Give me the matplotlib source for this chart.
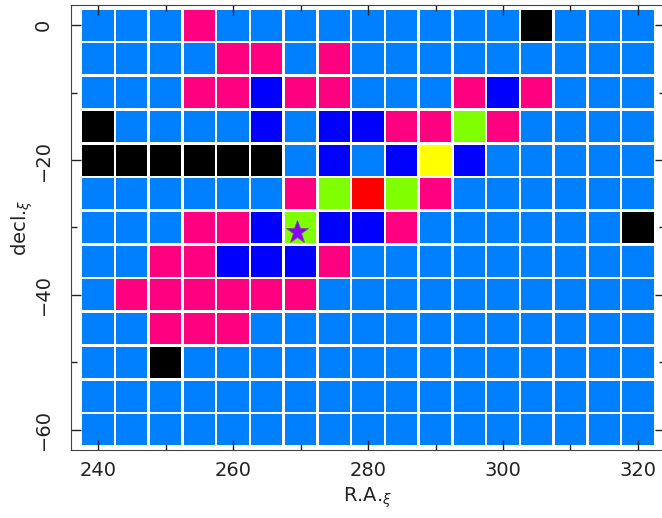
import matplotlib
matplotlib.use('Agg')
import matplotlib.pyplot as plt
from matplotlib.patches import Rectangle
from matplotlib.ticker import MultipleLocator

# grid of cells, R.A. / decl. centres
ra = [240, 245, 250, 255, 260, 265, 270, 275, 280, 285, 290, 295, 300, 305, 310, 315, 320]
dec = [0, -5, -10, -15, -20, -25, -30, -35, -40, -45, -50, -55, -60]

# one string per row (top to bottom), one letter per column
cells = [
    "BBBPBBBBBBBBBKBBB",
    "BBBBPPBPBBBBBBBBB",
    "BBBPPDPPBBBPDPBBB",
    "KBBBBDBDDPPGPBBBB",
    "KKKKKKBDBDYDBBBBB",
    "BBBBBBPGRGPBBBBBB",
    "BBBPPDGDDPBBBBBBK",
    "BBPPDDDPBBBBBBBBB",
    "BPPPPPPBBBBBBBBBB",
    "BBPPPBBBBBBBBBBBB",
    "BBKBBBBBBBBBBBBBB",
    "BBBBBBBBBBBBBBBBB",
    "BBBBBBBBBBBBBBBBB",
]

colours = {
    'B': '#0080FF',
    'P': '#FF0080',
    'D': '#0000FF',
    'K': '#000000',
    'G': '#80FF00',
    'R': '#FF0000',
    'Y': '#FFFF00',
}

star_ra = 269.5
star_dec = -30.6

fig = plt.figure(figsize=(6.62, 5.18), dpi=100)
ax = fig.add_axes([71 / 662, 68 / 518, 594 / 662, 445 / 518])

w = 4.6
for j, d in enumerate(dec):
    for i, r in enumerate(ra):
        ax.add_patch(Rectangle((r - w / 2, d - w / 2), w, w,
                               facecolor=colours[cells[j][i]], edgecolor='none'))

ax.plot(star_ra, star_dec, marker='*', markersize=17, color='#8A00FF',
        markeredgecolor='#7a4fa0', markeredgewidth=0.6, linestyle='none')

ax.set_xlim(236, 324)
ax.set_ylim(-63, 3)

ax.xaxis.set_major_locator(MultipleLocator(20))
ax.xaxis.set_minor_locator(MultipleLocator(10))
ax.yaxis.set_major_locator(MultipleLocator(20))
ax.yaxis.set_minor_locator(MultipleLocator(10))
ax.tick_params(which='both', direction='in', top=True, right=True,
               labelsize=14, colors='#222222', width=1)
ax.tick_params(which='major', length=7)
ax.tick_params(which='minor', length=4)
ax.tick_params(axis='x', pad=8)
ax.tick_params(axis='y', pad=13)
for lab in ax.get_yticklabels():
    lab.set_rotation(90)
    lab.set_verticalalignment('center')
for sp in ax.spines.values():
    sp.set_color('#444444')

ax.set_xlabel(r'R.A.$_\xi$', fontsize=14, color='#222222', labelpad=4)
ax.set_ylabel(r'decl.$_\xi$', fontsize=14, color='#222222', va='center')
ax.yaxis.set_label_coords(-0.082, 0.5)

fig.savefig('out.png', dpi=100)
